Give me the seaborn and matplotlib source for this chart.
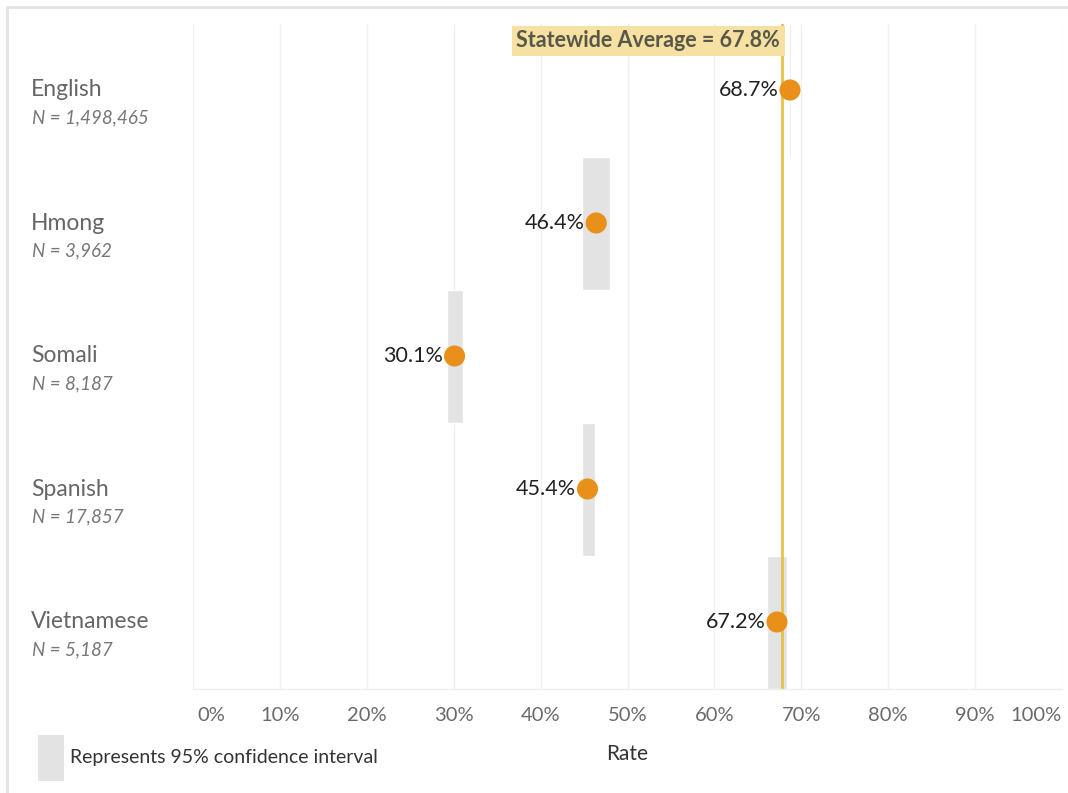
import matplotlib
matplotlib.use("Agg")
import matplotlib.pyplot as plt
import matplotlib.transforms as mtrans
from matplotlib.patches import Rectangle
from matplotlib.lines import Line2D
import seaborn as sns
import pandas as pd

languages = ["English", "Hmong", "Somali", "Spanish", "Vietnamese"]
n_labels = ["N = 1,498,465", "N = 3,962", "N = 8,187", "N = 17,857", "N = 5,187"]
rates = [68.7, 46.4, 30.1, 45.4, 67.2]
ci_low = [68.6, 44.8, 29.2, 44.8, 66.0]
ci_high = [68.8, 48.0, 31.1, 46.3, 68.3]
statewide_avg = 67.8
x_ticks = [0, 10, 20, 30, 40, 50, 60, 70, 80, 90, 100]

df = pd.DataFrame({"language": languages, "rate": rates,
                   "lo": ci_low, "hi": ci_high, "n": n_labels})
df["pos"] = range(len(df))

sns.set_theme(style="white")
plt.rcParams["font.family"] = ["Lato", "DejaVu Sans"]

fig = plt.figure(figsize=(10.68, 7.93), dpi=100)
ax = fig.add_axes([193 / 1068, 1 - 688.5 / 793, (1062 - 193) / 1068, (688.5 - 23.5) / 793])

# frame lines of the figure (screenshot border)
fig.add_artist(Line2D([7 / 1068, 1], [1 - 7 / 793, 1 - 7 / 793], transform=fig.transFigure,
                      color="#e3e3e3", lw=2))
fig.add_artist(Line2D([7 / 1068, 7 / 1068], [0, 1 - 7 / 793], transform=fig.transFigure,
                      color="#e3e3e3", lw=2))

# gridlines
for t in x_ticks:
    ax.axvline(t, color="#efefef", lw=1, zorder=0)

# CI bands
ax.barh(df["pos"], df["hi"] - df["lo"], left=df["lo"], height=1.0,
        color="#e3e3e3", zorder=1)

# statewide average line
ax.axvline(statewide_avg, color="#e8c14a", lw=2, zorder=2)

# points
sns.scatterplot(data=df, x="rate", y="pos", ax=ax, s=230, color="#e8901a",
                edgecolor="none", zorder=3, legend=False)

for _, r in df.iterrows():
    ax.text(r["rate"] - 1.3, r["pos"], f"{r['rate']:.1f}%", ha="right", va="center",
            fontsize=15.5, color="#222222", zorder=4)

ax.set_xlim(0, 100)
ax.set_ylim(4.5, -0.5)
ax.set_yticks([])
ax.set_xticks(x_ticks)
ax.set_xticklabels([f"{t}%" for t in x_ticks], fontsize=14.5, color="#6a6a6a")
labs = ax.get_xticklabels()
labs[0].set_horizontalalignment("left")
labs[-1].set_horizontalalignment("right")
ax.tick_params(axis="x", length=0, pad=13)
offset_l = mtrans.ScaledTranslation(4 / 100, 0, fig.dpi_scale_trans)
labs[0].set_transform(labs[0].get_transform() + offset_l)

for sp in ["top", "right", "left"]:
    ax.spines[sp].set_visible(False)
ax.spines["bottom"].set_color("#eeeeee")
ax.spines["bottom"].set_linewidth(1)
ax.set_xlabel("")
ax.set_ylabel("")

# statewide label
ax.text(statewide_avg - 0.25, -0.37, "Statewide Average = 67.8%", ha="right", va="center",
        fontsize=15.5, fontweight="bold", color="#585848", zorder=5,
        bbox=dict(boxstyle="square,pad=0.22", facecolor="#f6e1a3", edgecolor="none"))

# category labels
tr = mtrans.blended_transform_factory(fig.transFigure, ax.transData)
for _, r in df.iterrows():
    ax.text(31 / 1068, r["pos"], r["language"], transform=tr, ha="left", va="center",
            fontsize=16.5, color="#666666")
    ax.text(32 / 1068, r["pos"] + 0.21, r["n"], transform=tr, ha="left", va="center",
            fontsize=13.5, style="italic", color="#777777")

# x label
fig.text(627 / 1068, 1 - 754 / 793, "Rate", ha="center", va="center", fontsize=15,
         color="#333333")

# legend
fig.add_artist(Rectangle((38 / 1068, 1 - 781 / 793), 26 / 1068, 46 / 793,
                         transform=fig.transFigure, facecolor="#e3e3e3", edgecolor="none"))
fig.text(70 / 1068, 1 - 757 / 793, "Represents 95% confidence interval", ha="left",
         va="center", fontsize=14, color="#333333")

fig.savefig("out.png", dpi=100, facecolor="white")
